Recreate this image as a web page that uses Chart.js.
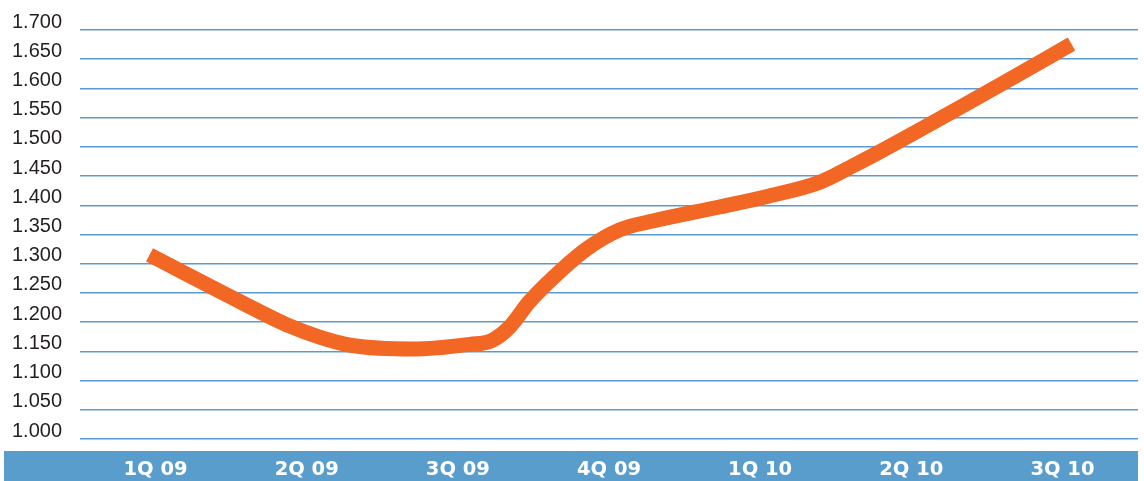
<!DOCTYPE html>
<html>
<head>
<meta charset="utf-8">
<title>Quarterly trend 1Q 09 – 3Q 10</title>
<script src="https://cdn.jsdelivr.net/npm/chart.js@4/dist/chart.umd.min.js"></script>
<style>
  html, body { margin: 0; padding: 0; background: #ffffff; }
  #wrap { width: 1144px; height: 481px; }
</style>
</head>
<body>
<div id="wrap"><canvas id="chart" width="1144" height="481"></canvas></div>
<script>
// Quarter labels shown in the bottom band
const quarterLabels = ['1Q 09', '2Q 09', '3Q 09', '4Q 09', '1Q 10', '2Q 10', '3Q 10'];

// Points along the curve: position in quarters (0 = 1Q 09) and value
const pointPositions = [-0.04, 0.56, 0.89, 1.09, 1.30, 1.70, 2.08, 2.22, 2.34, 2.47, 2.63, 2.85, 3.07, 3.29, 3.73, 4.06, 4.39, 4.61, 4.83, 5.58, 6.06];
const pointValues    = [1315, 1235, 1193, 1174, 1160, 1154, 1162, 1168, 1191, 1234, 1276, 1325, 1358, 1373, 1397, 1416, 1439, 1467, 1497, 1605, 1676];

// Value axis range and step
const yMin = 1000;
const yMax = 1700;
const yStep = 50;

// 1700 -> "1.700"
function formatThousands(v) {
  const s = String(Math.round(v));
  return s.length > 3 ? s.slice(0, s.length - 3) + '.' + s.slice(-3) : s;
}

// Blue band behind the quarter labels
const bandPlugin = {
  id: 'quarterBand',
  beforeDraw(chart) {
    const { ctx, chartArea } = chart;
    ctx.save();
    ctx.fillStyle = '#589dcc';
    ctx.fillRect(4, chartArea.bottom + 12, chartArea.right - 4, chart.height - (chartArea.bottom + 12));
    ctx.restore();
  }
};

new Chart(document.getElementById('chart'), {
  type: 'line',
  data: {
    datasets: [{
      data: pointPositions.map((x, i) => ({ x: x, y: pointValues[i] })),
      borderColor: '#f26724',
      borderWidth: 15,
      borderCapStyle: 'butt',
      borderJoinStyle: 'round',
      pointRadius: 0,
      fill: false,
      cubicInterpolationMode: 'monotone'
    }]
  },
  options: {
    responsive: false,
    devicePixelRatio: 1,
    animation: false,
    layout: { padding: { top: 28, right: 6, left: 0, bottom: 0 } },
    plugins: {
      legend: { display: false },
      tooltip: { enabled: false }
    },
    scales: {
      x: {
        type: 'linear',
        position: 'bottom',
        min: -0.5,
        max: quarterLabels.length - 0.5,
        grid: { display: false, drawTicks: false },
        border: { display: false },
        afterBuildTicks(scale) {
          scale.ticks = quarterLabels.map((_, i) => ({ value: i }));
        },
        afterFit(scale) { scale.height = 42; },
        ticks: {
          autoSkip: false,
          maxRotation: 0,
          padding: 19,
          color: '#ffffff',
          font: { family: '"DejaVu Sans", sans-serif', size: 19.5, weight: 'bold' },
          callback: (v) => quarterLabels[v] ?? ''
        }
      },
      y: {
        min: yMin,
        max: yMax,
        grid: { color: '#5a9ad0', lineWidth: 1.5, drawTicks: false },
        border: { display: false },
        afterFit(scale) { scale.width = 80; },
        ticks: {
          stepSize: yStep,
          padding: 18,
          labelOffset: -8,
          color: '#231f20',
          font: { family: '"Liberation Sans", Arial, sans-serif', size: 20 },
          callback: (v) => formatThousands(v)
        }
      }
    }
  },
  plugins: [bandPlugin]
});
</script>
</body>
</html>
